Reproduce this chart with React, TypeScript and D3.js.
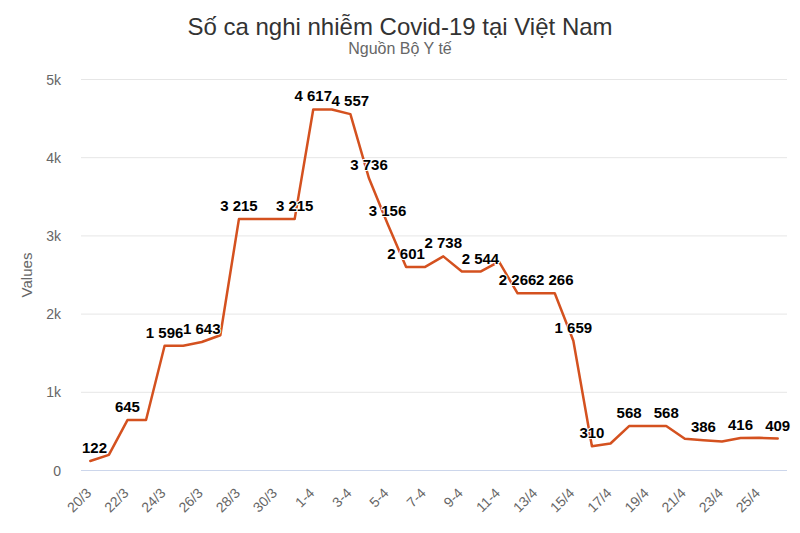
import React from "react";
import * as d3 from "d3";

const categories = [
  "20/3","21/3","22/3","23/3","24/3","25/3","26/3","27/3","28/3","29/3","30/3","31/3",
  "1-4","2-4","3-4","4-4","5-4","6-4","7-4","8-4","9-4","10-4","11-4","12-4",
  "13/4","14/4","15/4","16/4","17/4","18/4","19/4","20/4","21/4","22/4","23/4","24/4","25/4","26/4"
];
const values = [
  122, 200, 645, 645, 1596, 1596, 1643, 1730, 3215, 3215, 3215, 3215,
  4617, 4617, 4557, 3736, 3156, 2601, 2601, 2738, 2544, 2544, 2670, 2266,
  2266, 2266, 1659, 310, 345, 568, 568, 568, 405, 386, 370, 416, 418, 409
];
const labeledIndices = [0, 2, 4, 6, 8, 11, 12, 14, 15, 16, 17, 19, 21, 23, 25, 26, 27, 29, 31, 33, 35, 37];
const yTicks = [0, 1000, 2000, 3000, 4000, 5000];
const yTickLabels = ["0", "1k", "2k", "3k", "4k", "5k"];
const title = "Số ca nghi nhiễm Covid-19 tại Việt Nam";
const subtitle = "Nguồn Bộ Y tế";
const yAxisTitle = "Values";

const W = 800, H = 533;
const M = { left: 81, right: 787, top: 79.5, bottom: 470.5 };
const FONT = "'Liberation Sans', Arial, Helvetica, sans-serif";

function fmt(v: number) {
  return String(v).replace(/\B(?=(\d{3})+(?!\d))/g, " ");
}

export default function App() {
  const x = d3.scaleBand<string>().domain(categories).range([M.left, M.right]).padding(0);
  const bw = x.bandwidth();
  const cx = (i: number) => (x(categories[i]) as number) + bw / 2;
  const y = d3.scaleLinear().domain([0, 5000]).range([M.bottom, M.top]);
  const line = d3.line<number>().x((_, i) => cx(i)).y((d) => y(d));

  const labelW = (s: string) => {
    let w = 0;
    for (const ch of s) w += ch === " " ? 4.2 : 8.35;
    return w;
  };

  return (
    <svg width={W} height={H} style={{ position: "absolute", left: 0, top: 0, background: "#fff" }} fontFamily={FONT}>
      <rect x={0} y={0} width={W} height={H} fill="#fff" />
      <text x={400} y={35} textAnchor="middle" fontSize={24} fill="#333">{title}</text>
      <text x={400} y={54} textAnchor="middle" fontSize={16} fill="#666">{subtitle}</text>

      {yTicks.map((t, i) => (
        <g key={t}>
          {t !== 0 && (
            <line x1={M.left} x2={M.right} y1={y(t)} y2={y(t)} stroke="#e6e6e6" strokeWidth={1} />
          )}
          <text x={61} y={y(t) + 5} textAnchor="end" fontSize={14} fill="#666">{yTickLabels[i]}</text>
        </g>
      ))}
      <line x1={M.left} x2={M.right} y1={y(0)} y2={y(0)} stroke="#ccd6eb" strokeWidth={1} />

      <text transform={`translate(32,275) rotate(-90)`} textAnchor="middle" fontSize={15} fill="#666">{yAxisTitle}</text>

      {categories.map((c, i) =>
        i % 2 === 0 ? (
          <text key={c} transform={`translate(${cx(i) + 2},494) rotate(-45)`} textAnchor="end" fontSize={14} fill="#666">{c}</text>
        ) : null
      )}

      <path d={line(values) || ""} fill="none" stroke="#d4511f" strokeWidth={2.5} strokeLinejoin="round" strokeLinecap="round" />

      {labeledIndices.map((i) => {
        const s = fmt(values[i]);
        const w = labelW(s);
        let px = cx(i);
        if (px - w / 2 < M.left) px = M.left + w / 2 + 1;
        if (px + w / 2 > M.right + 10) px = M.right + 10 - w / 2;
        return (
          <text key={i} x={px} y={y(values[i]) - 8} textAnchor="middle" fontSize={15} fontWeight="bold" fill="#000"
            stroke="#fff" strokeWidth={2} paintOrder="stroke" strokeLinejoin="round">{s}</text>
        );
      })}
    </svg>
  );
}
